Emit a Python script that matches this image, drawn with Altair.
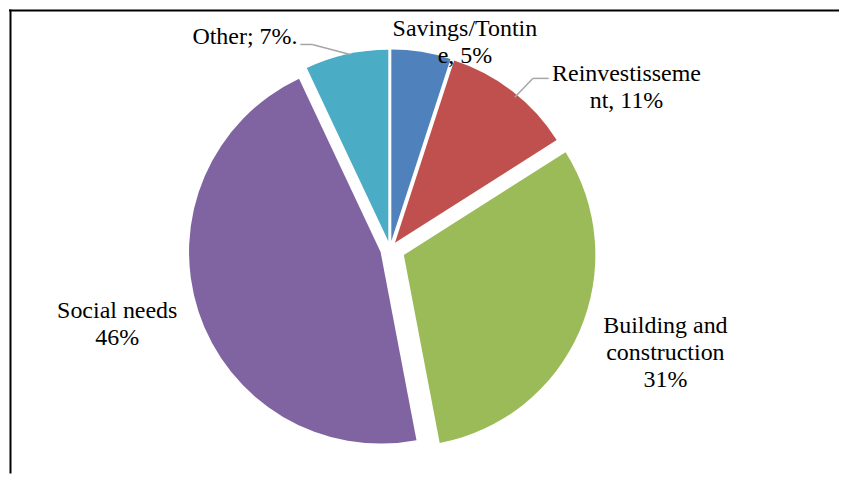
import math
import altair as alt
import pandas as pd

# ---- data ----
CATEGORIES = ["Savings/Tontine", "Reinvestissement", "Building and construction", "Social needs", "Other"]
VALUES = [5, 11, 31, 46, 7]
COLORS = ["#4F81BD", "#C0504D", "#9BBB59", "#8064A2", "#4BACC6"]
LABELS = ["Savings/Tontin\ne, 5%", "Reinvestisseme\nnt, 11%", "Building and\nconstruction\n31%",
          "Social needs\n46%", "Other; 7%."]

# ---- layout ----
W, H = 832, 465
CX, CY, R = 382, 240, 192
EXPLODE = {"Savings/Tontine": 8, "Reinvestissement": 8, "Building and construction": 15,
           "Social needs": 10, "Other": 8}
LABEL_POS = {"Savings/Tontine": (457, 27), "Reinvestissement": (619, 72),
             "Building and construction": (658, 324), "Social needs": (108.5, 309),
             "Other": (236.5, 35)}
LEADERS = [[(292, 35), (304, 35), (342, 45)], [(507, 88), (525, 69), (541, 69)]]
FONT = "Liberation Serif"

df = pd.DataFrame({"category": CATEGORIES, "value": VALUES, "order": list(range(len(VALUES)))})
total = sum(VALUES)

color = alt.Color("category:N", scale=alt.Scale(domain=CATEGORIES, range=COLORS), legend=None)
theta_scale = alt.Scale(domain=[0, total], range=[0, 2 * math.pi])

layers = []
cum = 0
for cat, val in zip(CATEGORIES, VALUES):
    mid = (cum + val / 2) / total * 2 * math.pi
    cum += val
    e = EXPLODE[cat]
    arc = (
        alt.Chart(df)
        .transform_window(cum="sum(value)", sort=[alt.SortField("order")], frame=[None, 0])
        .transform_calculate(start="datum.cum - datum.value")
        .transform_filter(alt.datum.category == cat)
        .mark_arc(outerRadius=R)
        .encode(
            theta=alt.Theta("start:Q", scale=theta_scale),
            theta2="cum:Q",
            color=color,
            x=alt.value(CX + e * math.sin(mid)),
            y=alt.value(CY - e * math.cos(mid)),
        )
    )
    layers.append(arc)

one = alt.Data(values=[{"k": 0}])

for pts in LEADERS:
    for (x1, y1), (x2, y2) in zip(pts[:-1], pts[1:]):
        layers.append(
            alt.Chart(one).mark_rule(color="#A6A6A6", strokeWidth=1.5).encode(
                x=alt.value(x1), y=alt.value(y1), x2=alt.value(x2), y2=alt.value(y2))
        )

for cat, lab in zip(CATEGORIES, LABELS):
    lx, ly = LABEL_POS[cat]
    layers.append(
        alt.Chart(one).mark_text(font=FONT, fontSize=24, color="black", align="center",
                                 baseline="alphabetic", lineBreak="\n", lineHeight=27)
        .encode(x=alt.value(lx), y=alt.value(ly), text=alt.value(lab))
    )

# frame lines (top and left)
layers.append(alt.Chart(one).mark_rule(color="black", strokeWidth=2).encode(
    x=alt.value(0), x2=alt.value(W), y=alt.value(1)))
layers.append(alt.Chart(one).mark_rule(color="black", strokeWidth=2).encode(
    x=alt.value(1.5), y=alt.value(0), y2=alt.value(H)))

chart = (
    alt.layer(*layers)
    .properties(width=W, height=H, padding=0, background="white")
    .configure_view(stroke=None)
)

chart.save("out.html", embed_options={"renderer": "svg", "actions": False})
